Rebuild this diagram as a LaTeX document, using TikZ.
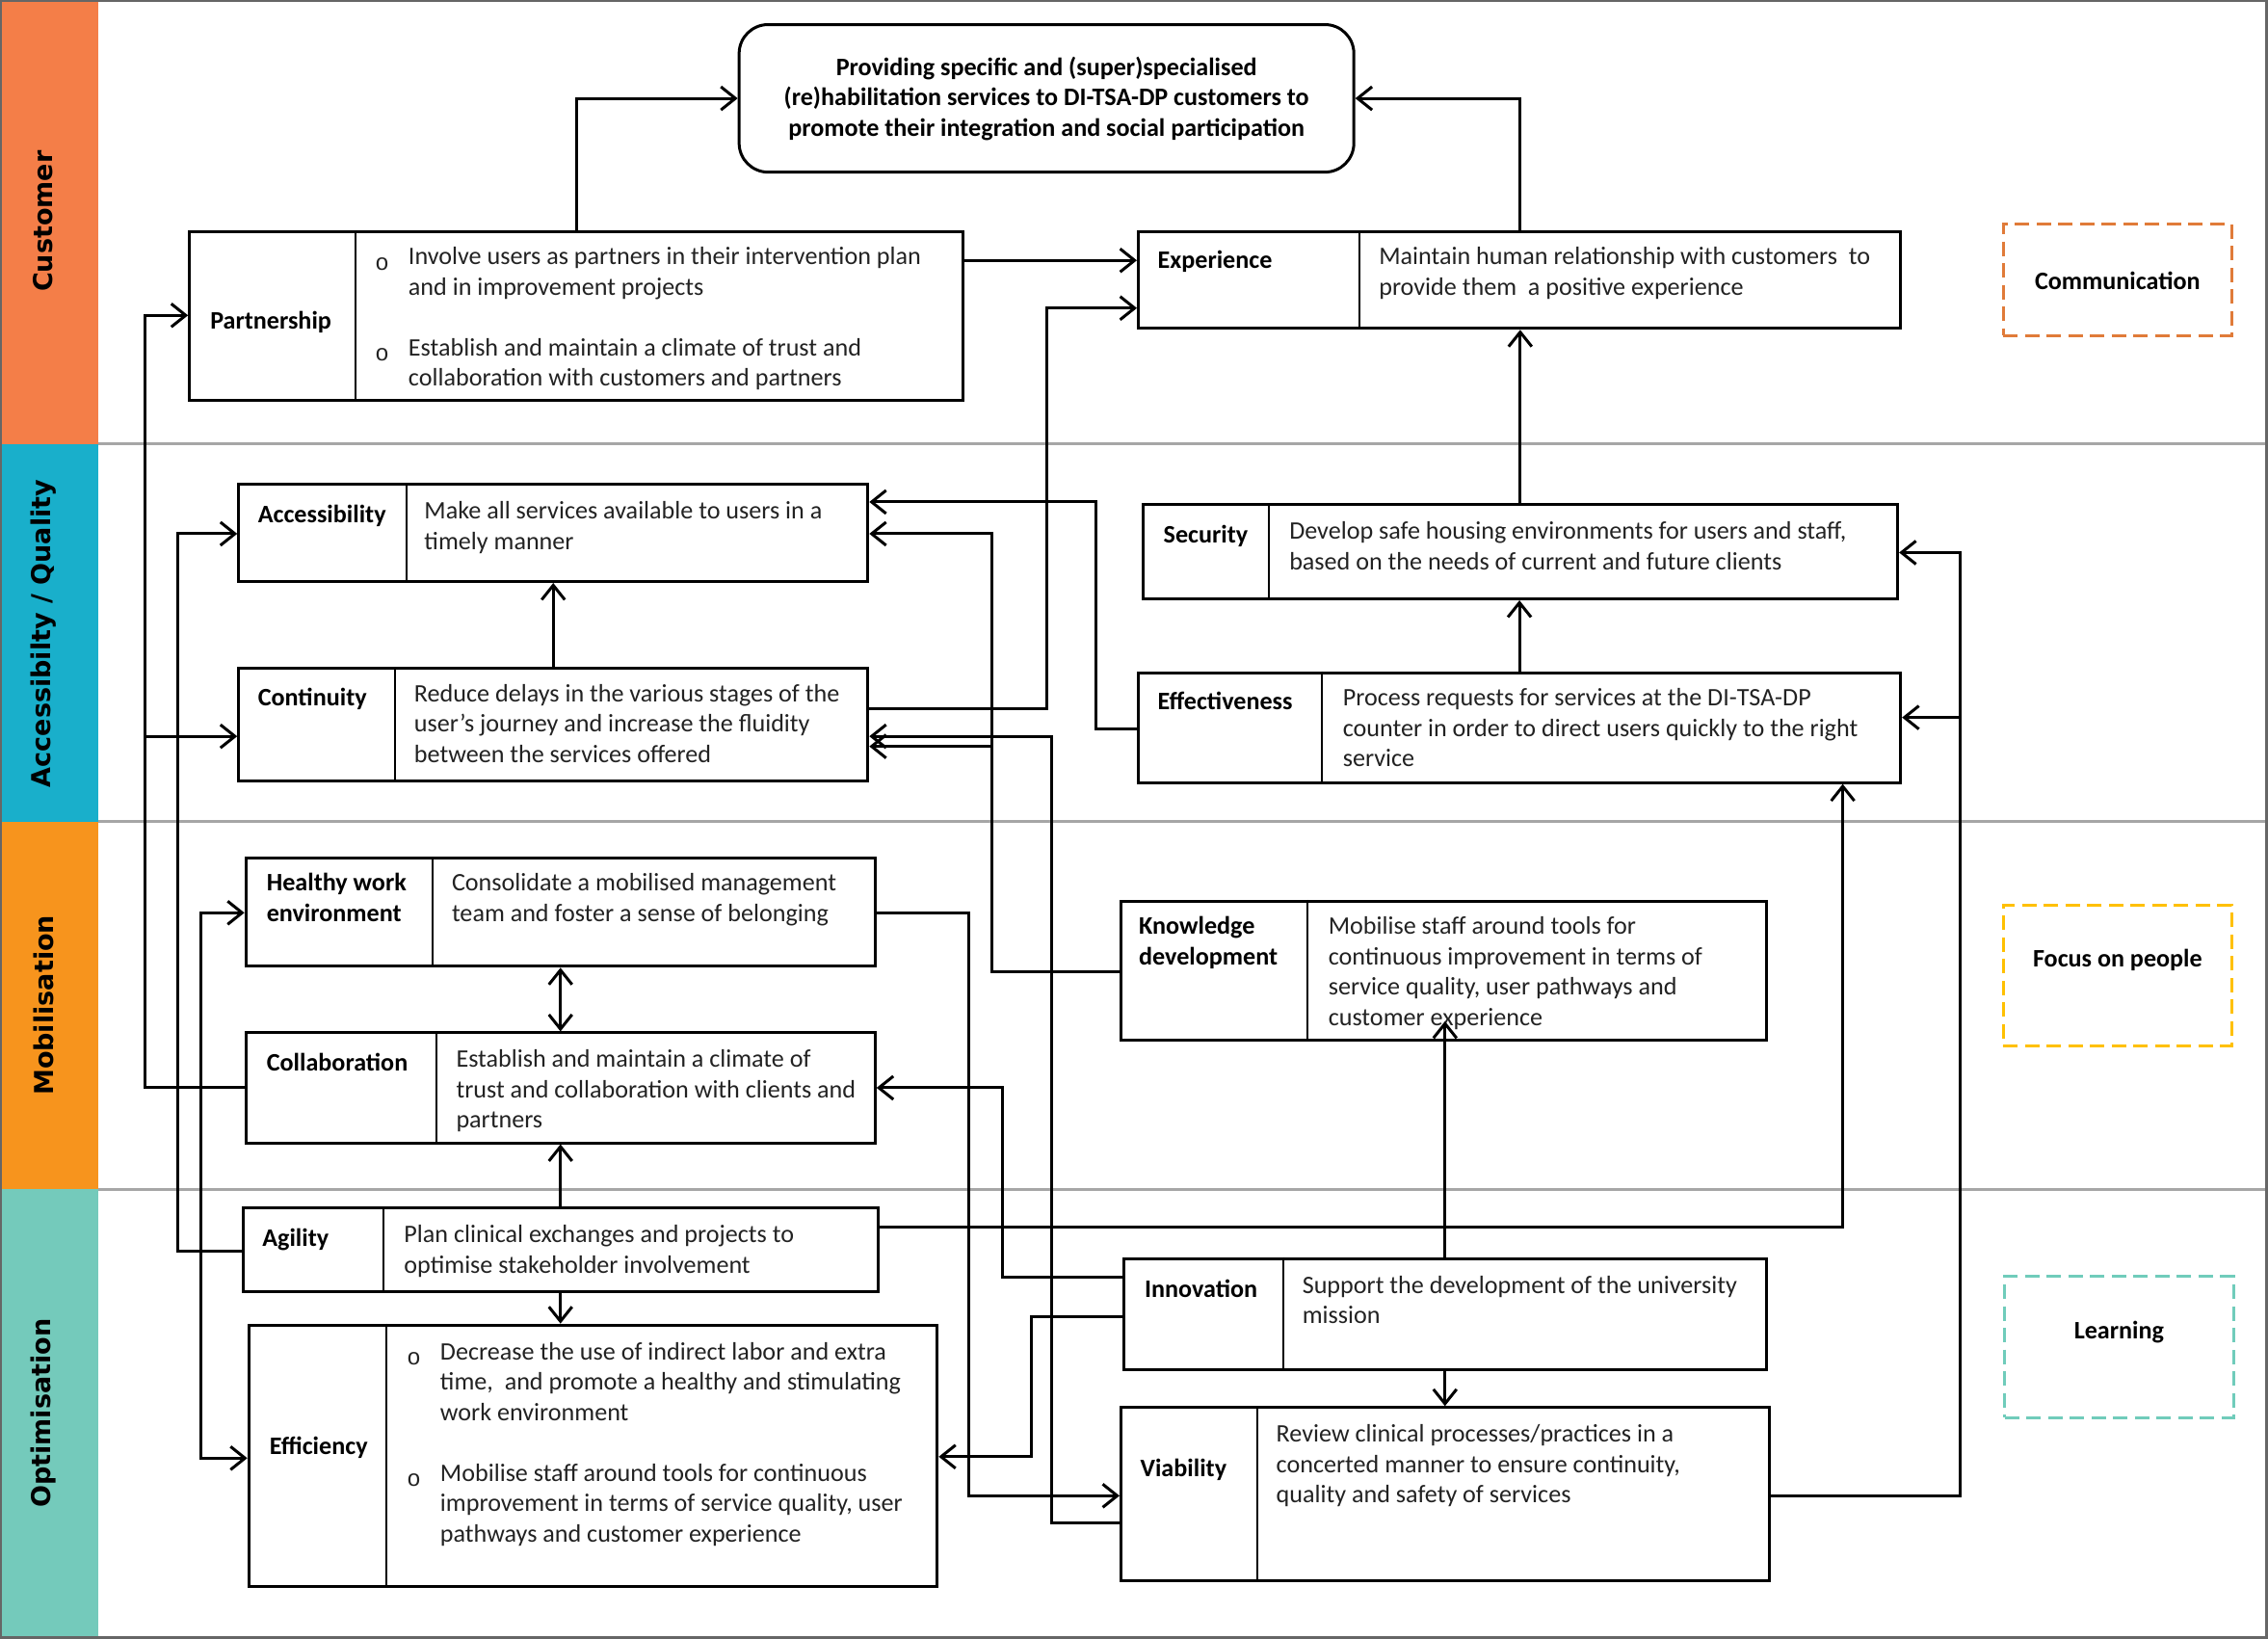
\documentclass[tikz,border=0pt]{standalone}
\usepackage{fontspec}
\setmainfont{Carlito}
\newfontfamily\lanefont{DejaVu Sans}
\newfontfamily\bulfont{Liberation Mono}
\usetikzlibrary{arrows.meta,fit}
\definecolor{cCust}{HTML}{F47E48}
\definecolor{cAcc}{HTML}{19AFCB}
\definecolor{cMob}{HTML}{F7941D}
\definecolor{cOpt}{HTML}{74CABB}
\definecolor{cComm}{HTML}{E07B39}
\definecolor{cFocus}{HTML}{FFC000}
\definecolor{cLearn}{HTML}{70CCBB}
\definecolor{txtc}{HTML}{222222}
\begin{document}
\begin{tikzpicture}[x=0.5pt,y=-0.5pt,
  box/.style={draw, line width=1pt, inner sep=0pt},
  divl/.style={line width=0.6pt},
  lab/.style={anchor=north west, inner sep=0pt, align=left, text=black, yshift=-1.5pt,
    font=\fontsize{8.7}{10.5}\selectfont\bfseries, execute at begin node=\strut},
  txt/.style={anchor=north west, inner sep=0pt, align=left, text=txtc, yshift=-1.5pt,
    font=\fontsize{8.7}{10.5}\selectfont, execute at begin node=\strut},
  bul/.style={anchor=north west, inner sep=0pt, text=txtc, yshift=-1.5pt,
    font=\bulfont\fontsize{8}{10.5}\selectfont, execute at begin node=\strut},
  lanelab/.style={rotate=90, inner sep=0pt, font=\lanefont\bfseries\fontsize{9}{11}\selectfont},
  dbox/.style={draw, line width=1pt, dash pattern=on 5pt off 2.5pt, inner sep=0pt, minimum width=79pt},
  dlab/.style={inner sep=0pt, font=\fontsize{8.7}{10.5}\selectfont\bfseries},
  ln/.style={line width=1pt},
  arr/.style={line width=1pt, -{Straight Barb[length=5pt,width=8pt]}},
  arrb/.style={line width=1pt, {Straight Barb[length=5pt,width=8pt]}-{Straight Barb[length=5pt,width=8pt]}},
  goalst/.style={draw, line width=1pt, rounded corners=10pt, inner sep=0pt,
    minimum width=212.5pt, minimum height=51pt, align=center,
    font=\fontsize{8.7}{10.5}\selectfont\bfseries}
]
\useasboundingbox (0,0) rectangle (1568,1133);
% lanes
\fill[cCust] (0,0) rectangle (68,307);
\fill[cAcc] (0,307) rectangle (68,568);
\fill[cMob] (0,568) rectangle (68,822);
\fill[cOpt] (0,822) rectangle (68,1133);
\draw[gray!70, line width=1pt] (68,307) -- (1568,307);
\draw[gray!70, line width=1pt] (68,568) -- (1568,568);
\draw[gray!70, line width=1pt] (68,822) -- (1568,822);
\draw[gray!80!black, line width=1pt] (0,0.5) rectangle (1567,1132);
\node[lanelab] (lCust) at (30,153) {Customer};
\node[lanelab] (lAcc) at (30,438) {Accessibilty / Quality};
\node[lanelab] (lMob) at (30,695) {Mobilisation};
\node[lanelab] (lOpt) at (30,977) {Optimisation};

% goal
\node[goalst] (goal) at (723.5,68) {Providing specific and (super)specialised\\(re)habilitation services to DI-TSA-DP customers to\\promote their integration and social participation};

% boxes
\node[box, fit={(131,160) (666,277)}] (part) {};
\draw[divl] (part.north -| 246,0) -- (part.south -| 246,0);
\node[lab] (partL) at (145,209.5) {Partnership};
\node[bul] (partB1) at (259,168.5) {o};
\node[txt] (partT1) at (282,167.5) {Involve users as partners in their intervention plan\\and in improvement projects};
\node[bul] (partB2) at (259,231.5) {o};
\node[txt] (partT2) at (282,230.5) {Establish and maintain a climate of trust and\\collaboration with customers and partners};

\node[box, fit={(787,160) (1314,227)}] (exp) {};
\draw[divl] (exp.north -| 940,0) -- (exp.south -| 940,0);
\node[lab] (expL) at (800,167.5) {Experience};
\node[txt] (expT) at (953,167.5) {Maintain human relationship with customers\ \ to\\provide them\ \ a positive experience};

\node[box, fit={(165,335) (600,402)}] (acc) {};
\draw[divl] (acc.north -| 281,0) -- (acc.south -| 281,0);
\node[lab] (accL) at (178,343.5) {Accessibility};
\node[txt] (accT) at (293,343.5) {Make all services available to users in a\\timely manner};

\node[box, fit={(165,462) (600,540)}] (cont) {};
\draw[divl] (cont.north -| 273,0) -- (cont.south -| 273,0);
\node[lab] (contL) at (178,469.5) {Continuity};
\node[txt] (contT) at (286,469.5) {Reduce delays in the various stages of the\\user's journey and increase the fluidity\\between the services offered};

\node[box, fit={(790,349) (1312,414)}] (sec) {};
\draw[divl] (sec.north -| 877,0) -- (sec.south -| 877,0);
\node[lab] (secL) at (804,357.5) {Security};
\node[txt] (secT) at (891,357.5) {Develop safe housing environments for users and staff,\\based on the needs of current and future clients};

\node[box, fit={(787,465) (1314,541)}] (eff) {};
\draw[divl] (eff.north -| 914,0) -- (eff.south -| 914,0);
\node[lab] (effL) at (800,472.5) {Effectiveness};
\node[txt] (effT) at (928,472.5) {Process requests for services at the DI-TSA-DP\\counter in order to direct users quickly to the right\\service};

\node[box, fit={(170,593) (605,668)}] (hwe) {};
\draw[divl] (hwe.north -| 299,0) -- (hwe.south -| 299,0);
\node[lab] (hweL) at (184,600.5) {Healthy work\\environment};
\node[txt] (hweT) at (312,600.5) {Consolidate a mobilised management\\team and foster a sense of belonging};

\node[box, fit={(170,714) (605,790)}] (coll) {};
\draw[divl] (coll.north -| 302,0) -- (coll.south -| 302,0);
\node[lab] (collL) at (184,722.5) {Collaboration};
\node[txt] (collT) at (315,722.5) {Establish and maintain a climate of\\trust and collaboration with clients and\\partners};

\node[box, fit={(775,623) (1221,719)}] (kd) {};
\draw[divl] (kd.north -| 904,0) -- (kd.south -| 904,0);
\node[lab] (kdL) at (787,630.5) {Knowledge\\development};
\node[txt] (kdT) at (918,630.5) {Mobilise staff around tools for\\continuous improvement in terms of\\service quality, user pathways and\\customer experience};

\node[box, fit={(168,835) (607,893)}] (agil) {};
\draw[divl] (agil.north -| 265,0) -- (agil.south -| 265,0);
\node[lab] (agilL) at (181,843.5) {Agility};
\node[txt] (agilT) at (279,843.5) {Plan clinical exchanges and projects to\\optimise stakeholder involvement};

\node[box, fit={(172,916) (648,1097)}] (effi) {};
\draw[divl] (effi.north -| 267,0) -- (effi.south -| 267,0);
\node[lab] (effiL) at (186,987.5) {Efficiency};
\node[bul] (effiB1) at (281,925.5) {o};
\node[txt] (effiT1) at (304,924.5) {Decrease the use of indirect labor and extra\\time,\ \ and promote a healthy and stimulating\\work environment};
\node[bul] (effiB2) at (281,1009.5) {o};
\node[txt] (effiT2) at (304,1008.5) {Mobilise staff around tools for continuous\\improvement in terms of service quality, user\\pathways and customer experience};

\node[box, fit={(777,870) (1221,947)}] (inno) {};
\draw[divl] (inno.north -| 887,0) -- (inno.south -| 887,0);
\node[lab] (innoL) at (791,878.5) {Innovation};
\node[txt] (innoT) at (900,878.5) {Support the development of the university\\mission};

\node[box, fit={(775,973) (1223,1093)}] (via) {};
\draw[divl] (via.north -| 869,0) -- (via.south -| 869,0);
\node[lab] (viaL) at (788,1002.5) {Viability};
\node[txt] (viaT) at (882,981.5) {Review clinical processes/practices in a\\concerted manner to ensure continuity,\\quality and safety of services};

% dashed side boxes
\node[dbox, draw=cComm, minimum height=38.5pt] (comm) at (1464,193.5) {};
\node[dlab] (commT) at (1464,194) {Communication};
\node[dbox, draw=cFocus, minimum height=48.5pt] (focus) at (1464,674.5) {};
\node[dlab] (focusT) at (1464,664) {Focus on people};
\node[dbox, draw=cLearn, minimum height=49pt] (learn) at (1465,931) {};
\node[dlab] (learnT) at (1465,921) {Learning};

% connectors
\draw[arr] (part.north) |- (goal.west);
\draw[arr] (exp.north) |- (goal.east);
\draw[arr] (part.east |- 0,180) -- (exp.west |- 0,180);
\draw[arr] (cont.east |- 0,490) -- (724,490) -- (724,213) -- (exp.west |- 0,213);
\draw[arr] (sec.north) -- (sec.north |- exp.south);
\draw[arr] (eff.north) -- (eff.north |- sec.south);
\draw[arr] (cont.north) -- (cont.north |- acc.south);
\draw[arr] (eff.west |- 0,504) -- (758,504) -- (758,347) -- (acc.east |- 0,347);
\draw[arr] (kd.west |- 0,672) -- (686,672) -- (686,369) -- (acc.east |- 0,369);
\draw[arr] (686,516) -- (cont.east |- 0,516);
\draw[arr] (coll.west |- 0,752) -- (100,752) -- (100,218) -- (part.west |- 0,218);
\draw[arr] (100,509) -- (cont.west |- 0,509);
\draw[arr] (agil.west |- 0,865) -- (123,865) -- (123,369) -- (acc.west |- 0,369);
\draw[arrb] (hwe.west |- 0,631) -- (139,631) -- (139,1008) -- (effi.west |- 0,1008);
\draw[arr] (hwe.east |- 0,631) -- (670,631) -- (670,1034) -- (via.west |- 0,1034);
\draw[arrb] (hwe.south) -- (hwe.south |- coll.north);
\draw[arr] (agil.north) -- (agil.north |- coll.south);
\draw[arr] (agil.south) -- (agil.south |- effi.north);
\draw[arr] (inno.west |- 0,883) -- (693,883) -- (693,752) -- (coll.east |- 0,752);
\draw[arr] (inno.west |- 0,910) -- (713,910) -- (713,1007) -- (effi.east |- 0,1007);
\draw[arr] (via.west |- 0,1053) -- (727,1053) -- (727,509) -- (cont.east |- 0,509);
\draw[arr] (inno.north) -- (inno.north |- 0,706);
\draw[arr] (inno.south) -- (inno.south |- via.north);
\draw[arr] (agil.east |- 0,848) -- (1274,848) -- (eff.south -| 1274,0);
\draw[arr] (via.east |- 0,1034) -- (1355,1034) -- (1355,382) -- (sec.east |- 0,382);
\draw[arr] (1355,496) -- (eff.east |- 0,496);
\end{tikzpicture}
\end{document}
